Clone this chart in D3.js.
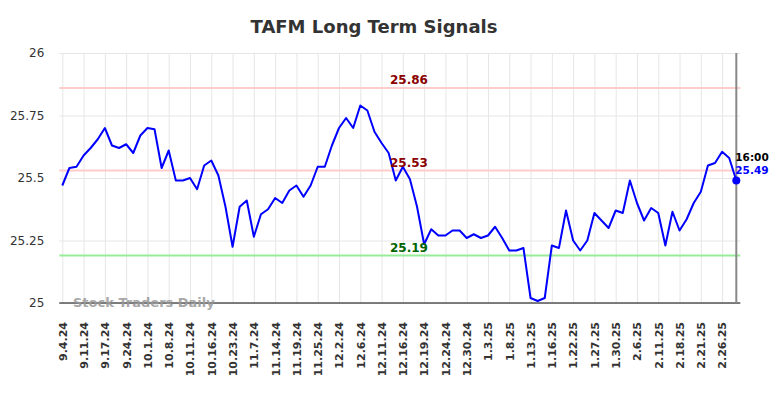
<!DOCTYPE html>
<html>
<head>
<meta charset="utf-8">
<script src="https://cdn.jsdelivr.net/npm/d3@7"></script>
<style>
    body { margin: 0; background: #fff; }
    svg { display: block; font-family: "DejaVu Sans", sans-serif; }
</style>
</head>
<body>
<div id="chart"></div>
<script>
// 날짜 라벨 (3 포인트마다 하나)
const tickLabels = [
    "9.4.24", "9.11.24", "9.17.24", "9.24.24", "10.1.24", "10.8.24", "10.11.24", "10.16.24",
    "10.23.24", "11.7.24", "11.14.24", "11.19.24", "11.25.24", "12.2.24", "12.6.24", "12.11.24",
    "12.16.24", "12.19.24", "12.24.24", "12.30.24", "1.3.25", "1.8.25", "1.13.25", "1.16.25",
    "1.22.25", "1.27.25", "1.30.25", "2.6.25", "2.11.25", "2.18.25", "2.21.25", "2.26.25"
];

// 가격 시리즈
const prices = [
    25.47, 25.54, 25.545, 25.59, 25.62, 25.655, 25.70, 25.63, 25.62, 25.635,
    25.60, 25.67, 25.70, 25.695, 25.54, 25.61, 25.49, 25.49, 25.50, 25.455,
    25.55, 25.57, 25.51, 25.385, 25.225, 25.385, 25.41, 25.265, 25.355, 25.375,
    25.42, 25.40, 25.45, 25.47, 25.425, 25.47, 25.545, 25.545, 25.63, 25.70,
    25.74, 25.70, 25.79, 25.77, 25.685, 25.64, 25.60, 25.49, 25.545, 25.495,
    25.385, 25.235, 25.295, 25.27, 25.27, 25.29, 25.29, 25.26, 25.275, 25.26,
    25.27, 25.305, 25.26, 25.21, 25.21, 25.22, 25.02, 25.008, 25.02, 25.23,
    25.22, 25.37, 25.25, 25.21, 25.25, 25.36, 25.33, 25.30, 25.37, 25.36,
    25.49, 25.40, 25.33, 25.38, 25.36, 25.23, 25.365, 25.29, 25.335, 25.40,
    25.445, 25.55, 25.56, 25.605, 25.58, 25.49
];

// 신호 레벨
const levels = [
    { value: 25.86, kind: "resistance" },
    { value: 25.53, kind: "resistance" },
    { value: 25.19, kind: "support" }
];

const yTicks = [25, 25.25, 25.5, 25.75, 26];
const lastTime = "16:00";

const width = 784;
const height = 398;
const plot = { left: 62.3, right: 736.3, top: 53, bottom: 303 };

const svg = d3.select('#chart')
    .append('svg')
    .attr('width', width)
    .attr('height', height);

const x = d3.scalePoint()
    .domain(d3.range(prices.length))
    .range([plot.left, plot.right]);

const y = d3.scaleLinear()
    .domain([25, 26])
    .range([plot.bottom, plot.top]);

const tickIdx = tickLabels.map((d, i) => i * 3);

// 제목
svg.append('text')
    .attr('x', 374)
    .attr('y', 33)
    .attr('text-anchor', 'middle')
    .attr('font-size', '18px')
    .attr('font-weight', 'bold')
    .attr('fill', '#333')
    .text('TAFM Long Term Signals');

// 가로 그리드 + y 라벨
svg.append('g')
    .attr('transform', `translate(${plot.left - 3},0)`)
    .call(d3.axisLeft(y).tickValues(yTicks).tickFormat(d3.format('')).tickSize(-(plot.right - plot.left + 7)).tickPadding(15))
    .call(g => g.select('.domain').remove())
    .call(g => g.selectAll('line').attr('stroke', '#e6e6e6'))
    .call(g => g.selectAll('text').attr('font-size', '12px').attr('fill', '#333').attr('font-family', '"DejaVu Sans", sans-serif'));

// 세로 그리드 + x 라벨
const xAxis = svg.append('g')
    .attr('transform', `translate(0,${plot.bottom})`)
    .call(d3.axisBottom(x).tickValues(tickIdx).tickFormat((d, i) => tickLabels[i]).tickSize(-(plot.bottom - plot.top)))
    .call(g => g.select('.domain').remove())
    .call(g => g.selectAll('line').attr('stroke', '#e6e6e6'));

xAxis.selectAll('text')
    .attr('transform', 'rotate(-90)')
    .attr('x', -19)
    .attr('y', 0)
    .attr('dy', '0.35em')
    .attr('text-anchor', 'end')
    .attr('font-size', '11px')
    .attr('font-weight', 'bold')
    .attr('fill', '#333')
    .attr('font-family', '"DejaVu Sans", sans-serif');

// 신호 레벨 라인
svg.selectAll('.level')
    .data(levels)
    .enter()
    .append('line')
    .attr('x1', plot.left - 3)
    .attr('x2', plot.right + 4)
    .attr('y1', d => y(d.value))
    .attr('y2', d => y(d.value))
    .attr('stroke', d => d.kind === 'support' ? '#98ec98' : '#ffcccc')
    .attr('stroke-width', 2);

// 하단 축선
svg.append('line')
    .attr('x1', plot.left - 3)
    .attr('x2', plot.right + 4)
    .attr('y1', plot.bottom)
    .attr('y2', plot.bottom)
    .attr('stroke', '#555')
    .attr('stroke-width', 1.3);

// 오른쪽 세로선 (마지막 포인트)
svg.append('line')
    .attr('x1', x(prices.length - 1))
    .attr('x2', x(prices.length - 1))
    .attr('y1', plot.top)
    .attr('y2', plot.bottom)
    .attr('stroke', '#888')
    .attr('stroke-width', 2);

// 워터마크
svg.append('text')
    .attr('x', 73)
    .attr('y', 307)
    .attr('font-size', '13px')
    .attr('font-weight', 'bold')
    .attr('fill', '#999')
    .attr('opacity', 0.85)
    .text('Stock Traders Daily');

// 가격 라인
const line = d3.line()
    .x((d, i) => x(i))
    .y(d => y(d));

svg.append('path')
    .datum(prices)
    .attr('fill', 'none')
    .attr('stroke', '#0000ff')
    .attr('stroke-width', 2)
    .attr('stroke-linejoin', 'round')
    .attr('d', line);

// 레벨 라벨
svg.selectAll('.level-label')
    .data(levels)
    .enter()
    .append('text')
    .attr('x', 409)
    .attr('y', d => y(d.value) - 4)
    .attr('text-anchor', 'middle')
    .attr('font-size', '12px')
    .attr('font-weight', 'bold')
    .attr('fill', d => d.kind === 'support' ? '#006400' : '#8b0000')
    .text(d => d.value.toFixed(2));

// 마지막 포인트
const lastX = x(prices.length - 1);
const lastY = y(prices[prices.length - 1]);

svg.append('circle')
    .attr('cx', lastX)
    .attr('cy', lastY)
    .attr('r', 4)
    .attr('fill', '#0000ff');

svg.append('text')
    .attr('x', lastX - 1)
    .attr('y', lastY - 20)
    .attr('font-size', '10.5px')
    .attr('font-weight', 'bold')
    .attr('fill', '#000')
    .text(lastTime);

svg.append('text')
    .attr('x', lastX - 1)
    .attr('y', lastY - 7)
    .attr('font-size', '10.5px')
    .attr('font-weight', 'bold')
    .attr('fill', '#0000ff')
    .text(prices[prices.length - 1].toFixed(2));
</script>
</body>
</html>
